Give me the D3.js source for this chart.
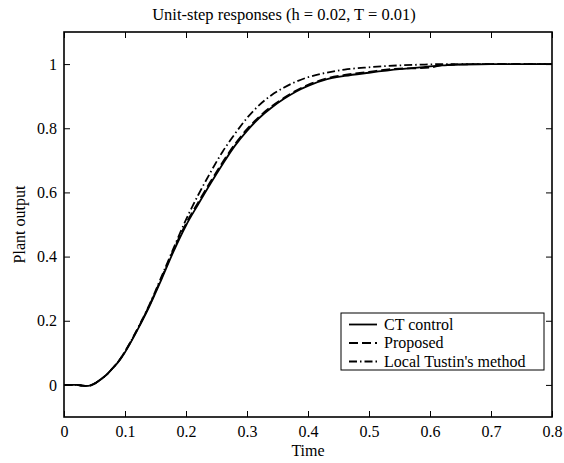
<!DOCTYPE html>
<html>
<head>
<meta charset="utf-8">
<script src="https://cdn.jsdelivr.net/npm/d3@7"></script>
<style>
  body { margin: 0; background: #fff; }
</style>
</head>
<body>
<svg id="chart"></svg>
<script>
// time samples
var time = [0, 0.02, 0.03, 0.04, 0.05, 0.06, 0.07, 0.08, 0.09, 0.10, 0.12, 0.14, 0.16, 0.18, 0.20,
            0.22, 0.24, 0.26, 0.28, 0.30, 0.32, 0.34, 0.36, 0.38, 0.40, 0.43, 0.46, 0.50, 0.55,
            0.58, 0.60, 0.62, 0.65, 0.70, 0.75, 0.80];
// CT control
var ctControl = [0, 0, -0.002, -0.003, 0.004, 0.017, 0.032, 0.052, 0.074, 0.102, 0.17, 0.245, 0.33, 0.418, 0.497,
                 0.563, 0.627, 0.688, 0.745, 0.792, 0.832, 0.864, 0.891, 0.914, 0.932, 0.952, 0.963, 0.973, 0.984,
                 0.989, 0.993, 0.996, 0.998, 1.0, 1.0, 1.0];
// proposed
var proposed = [0, 0, -0.002, -0.003, 0.004, 0.017, 0.032, 0.053, 0.075, 0.104, 0.172, 0.248, 0.334, 0.423, 0.503,
                0.569, 0.633, 0.694, 0.75, 0.797, 0.836, 0.868, 0.894, 0.917, 0.935, 0.955, 0.966, 0.976, 0.986,
                0.987, 0.989, 0.997, 0.999, 1.0, 1.0, 1.0];
// local Tustin's method
var tustin = [0, 0, -0.002, -0.003, 0.004, 0.017, 0.032, 0.053, 0.075, 0.104, 0.173, 0.25, 0.338, 0.428, 0.515,
              0.592, 0.662, 0.727, 0.782, 0.832, 0.872, 0.903, 0.926, 0.945, 0.959, 0.973, 0.983, 0.99, 0.996,
              0.998, 0.999, 1.0, 1.0, 1.0, 1.0, 1.0];

var xTicks = [0, 0.1, 0.2, 0.3, 0.4, 0.5, 0.6, 0.7, 0.8];
var yTicks = [0, 0.2, 0.4, 0.6, 0.8, 1];
var seriesNames = ["CT control", "Proposed", "Local Tustin's method"];

var W = 564, H = 463;
var margin = {top: 32, right: 12, bottom: 46, left: 64};
var width = W - margin.left - margin.right;
var height = H - margin.top - margin.bottom;
var fs = 16;

var svg = d3.select('#chart').attr('width', W).attr('height', H);
var g = svg.append('g').attr('transform', 'translate(' + margin.left + ',' + margin.top + ')');

var x = d3.scaleLinear().domain([0, 0.8]).range([0, width]);
var y = d3.scaleLinear().domain([-0.1, 1.1]).range([height, 0]);

// ticks on all four sides, pointing inwards (MATLAB box)
function fmt(d){ return d === 0 ? '0' : d === 1 ? '1' : d3.format('.1f')(d); }

var xb = g.append('g').attr('transform', 'translate(0,' + height + ')')
    .call(d3.axisBottom(x).tickValues(xTicks).tickSize(-6).tickPadding(9).tickFormat(fmt));
var xt = g.append('g')
    .call(d3.axisTop(x).tickValues(xTicks).tickSize(-6).tickFormat(''));
var yl = g.append('g')
    .call(d3.axisLeft(y).tickValues(yTicks).tickSize(-6).tickPadding(7).tickFormat(fmt));
var yr = g.append('g').attr('transform', 'translate(' + width + ',0)')
    .call(d3.axisRight(y).tickValues(yTicks).tickSize(-6).tickFormat(''));

[xb, xt, yl, yr].forEach(function(a){
    a.select('.domain').remove();
    a.selectAll('line').attr('stroke', '#000').attr('stroke-width', 1);
});

g.append('rect')
    .attr('x', 0).attr('y', 0).attr('width', width).attr('height', height)
    .attr('fill', 'none').attr('stroke', '#000').attr('stroke-width', 1.6);

// the curves
var line = d3.line()
    .x(function(d){ return x(d.t); })
    .y(function(d){ return y(d.v); })
    .curve(d3.curveMonotoneX);

var styles = [
    {data: ctControl, dash: null},
    {data: proposed, dash: '9,4'},
    {data: tustin, dash: '8,3,1.5,3'}
];

svg.append('clipPath').attr('id', 'clip').append('rect')
    .attr('width', width).attr('height', height);

styles.forEach(function(s){
    var xy = [];
    for (var i = 0; i < time.length; i++){ xy.push({t: time[i], v: s.data[i]}); }
    g.append('path')
        .datum(xy)
        .attr('clip-path', 'url(#clip)')
        .attr('fill', 'none')
        .attr('stroke', '#000')
        .attr('stroke-width', 1.8)
        .attr('stroke-dasharray', s.dash)
        .attr('d', line);
});

// legend
var leg = g.append('g').attr('transform', 'translate(' + (341 - margin.left) + ',' + (313 - margin.top) + ')');
leg.append('rect').attr('width', 203).attr('height', 57)
    .attr('fill', '#fff').attr('stroke', '#000').attr('stroke-width', 1);
var rowY = [11.5, 30, 48.5];
seriesNames.forEach(function(name, i){
    leg.append('line')
        .attr('x1', 8).attr('x2', 36).attr('y1', rowY[i]).attr('y2', rowY[i])
        .attr('stroke', '#000').attr('stroke-width', 1.8)
        .attr('stroke-dasharray', styles[i].dash);
    leg.append('text')
        .attr('x', 43).attr('y', rowY[i] + 5)
        .text(name);
});

// title and axis labels
svg.append('text')
    .attr('class', 'title')
    .attr('x', 284).attr('y', 20)
    .attr('text-anchor', 'middle')
    .text('Unit-step responses (h = 0.02, T = 0.01)');

svg.append('text')
    .attr('x', margin.left + width / 2).attr('y', 456)
    .attr('text-anchor', 'middle')
    .text('Time');

svg.append('text')
    .attr('transform', 'translate(25,' + (margin.top + y(0.5)) + ') rotate(-90)')
    .attr('text-anchor', 'middle')
    .text('Plant output');

// same serif face on every text, set inline
svg.selectAll('text')
    .style('font-family', 'Liberation Serif')
    .style('font-size', fs + 'px')
    .style('fill', '#000');
svg.select('.title').style('font-size', '16.5px');
</script>
</body>
</html>
